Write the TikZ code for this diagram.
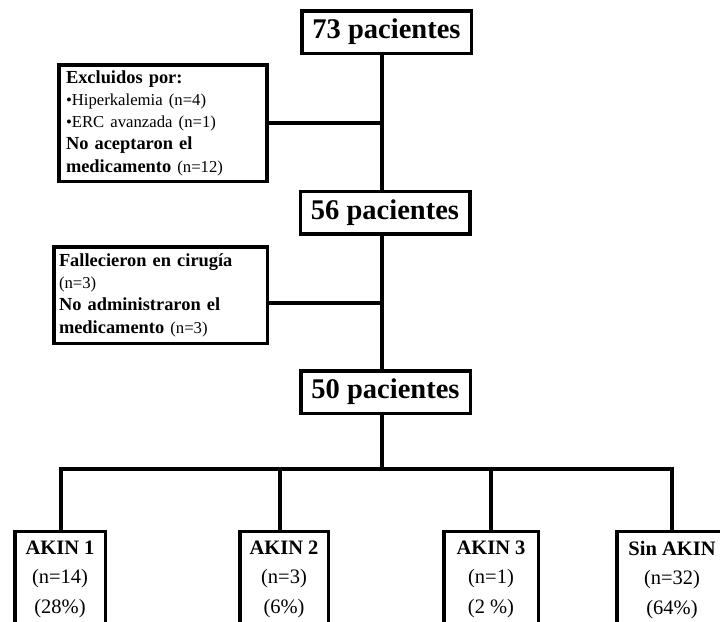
\documentclass[tikz,border=0pt]{standalone}
\usepackage{fontspec}
\setmainfont{Liberation Serif}
\newcommand\regtxt[1]{{\mdseries\fontsize{16.7pt}{22.3pt}\selectfont #1}}
\tikzset{
  box/.style={draw, line width=3.5pt, inner sep=0pt, fill=white},
  big/.style={box, font=\bfseries\fontsize{28.5pt}{30pt}\selectfont, minimum width=169.5pt, minimum height=42.5pt},
  side/.style={box, align=left, font=\bfseries\fontsize{18.4pt}{22.3pt}\selectfont},
  akin/.style={box, anchor=north, align=center, inner ysep=9.4pt, font=\fontsize{20.5pt}{29.5pt}\selectfont},
  link/.style={line width=3.5pt},
}
\begin{document}
\begin{tikzpicture}[x=1pt,y=-1pt]
\useasboundingbox (0,0) rectangle (720,621);
\clip (0,0) rectangle (720,621);
\coordinate (sp) at (382,0);
\coordinate (bar) at (0,469);
% connectors
\node[big] (n73) at (386.5,32) {73 pacientes};
\node[big] (n56) at (385,212.5) {56 pacientes};
\node[big] (n50) at (385.5,392) {50 pacientes};
\node[side, minimum height=116.5pt, text width=194pt, inner xsep=7pt] (exc) at (163,123)
  {Excluidos por:\\
   \regtxt{\textbullet Hiperkalemia (n=4)}\\
   \regtxt{\textbullet ERC avanzada (n=1)}\\
   No aceptaron el\\
   medicamento \regtxt{(n=12)}};
\node[side, minimum height=96.5pt, text width=203pt, inner xsep=5.25pt] (fall) at (160.5,295)
  {Fallecieron en cirugía\\
   \regtxt{(n=3)}\\
   No administraron el\\
   medicamento \regtxt{(n=3)}};
\node[akin, minimum width=90.5pt] (a1) at (60,529.75) {\textbf{AKIN 1}\\(n=14)\\(28\%)\\~};
\node[akin, minimum width=88.5pt] (a2) at (284,529.75) {\textbf{AKIN 2}\\(n=3)\\(6\%)\\~};
\node[akin, minimum width=94.5pt] (a3) at (491,529.75) {\textbf{AKIN 3}\\(n=1)\\(2 \%)\\~};
\node[akin, minimum width=110.5pt] (sin) at (672,529.75) {\textbf{Sin AKIN}\\(n=32)\\(64\%)\\~};
\draw[link] (n73.south -| sp) -- (n56.north -| sp);
\draw[link] (n56.south -| sp) -- (n50.north -| sp);
\draw[link] (exc.east) -- (exc.east -| sp);
\draw[link] ([yshift=-8pt]fall.east) -- ([yshift=-8pt]fall.east -| sp);
\draw[link] (n50.south -| sp) -- (sp |- bar);
\draw[link] ([xshift=1pt]a1.north) |- (sin.north |- bar) -- (sin.north);
\draw[link] ([xshift=-4pt]a2.north) -- ([xshift=-4pt]a2.north |- bar);
\draw[link] (a3.north) -- (a3.north |- bar);
\end{tikzpicture}
\end{document}
